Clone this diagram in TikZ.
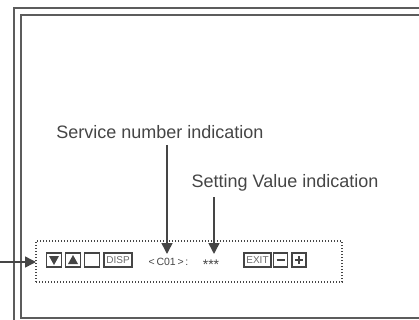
\documentclass[tikz,border=0pt]{standalone}
\usepackage{fontspec}
\setmainfont{Liberation Sans}
\usetikzlibrary{arrows.meta,calc}
\definecolor{ink}{HTML}{454545}
\definecolor{framec}{HTML}{5C5C5C}
\begin{document}
\begin{tikzpicture}[x=1pt,y=-1pt,
  frameline/.style={draw=framec,line width=1.7pt},
  btn/.style={draw=ink,line width=1.3pt,minimum width=15pt,minimum height=14pt,inner sep=0pt},
  btntext/.style={btn,text=ink!80,font=\fontsize{10}{10}\selectfont},
  label/.style={text=ink,font=\fontsize{18}{20}\selectfont,inner sep=0pt},
  small/.style={text=ink,font=\fontsize{10.5}{10.5}\selectfont,inner sep=0pt},
  pointer/.style={draw=ink,line width=1.5pt,-{Triangle[length=11pt,width=11pt]}},
  glyph/.style={fill=ink,draw=none}]
\useasboundingbox (0,0) rectangle (419,320);
\begin{scope}
  \clip (0,0) rectangle (419,320);
  \draw[frameline] (14,330) -- (14,8) -- (430,8);
  \draw[frameline] (430,318) -- (21,318) -- (21,15) -- (430,15);
\end{scope}
% dotted panel
\node[draw=ink,line width=1.2pt,dash pattern=on 1pt off 2pt,minimum width=306pt,minimum height=41pt,inner sep=0pt] (panel) at (189,261.5) {};
% buttons
\node[btn] (down) at (54,260) {};
\node[btn] (up) at (73,260) {};
\node[btn] (blank) at (92,260) {};
\node[btntext,minimum width=28pt] (disp) at (118,260) {DISP};
\node[btntext,minimum width=27pt] (exit) at (257.5,260) {EXIT};
\node[btn,minimum width=14pt] (minus) at (280.5,260) {};
\node[btn,minimum width=14pt] (plus) at (299,260) {};
\fill[glyph] ($(down.center)+(-5,-4)$) -- ($(down.center)+(5,-4)$) -- ($(down.center)+(0,5)$) -- cycle;
\fill[glyph] ($(up.center)+(-5,4)$) -- ($(up.center)+(5,4)$) -- ($(up.center)+(0,-5)$) -- cycle;
\draw[ink,line width=1.5pt] ($(minus.center)+(-4,0)$) -- ($(minus.center)+(4,0)$);
\draw[ink,line width=1.5pt] ($(plus.center)+(-4,0)$) -- ($(plus.center)+(4,0)$)
  ($(plus.center)+(0,-4)$) -- ($(plus.center)+(0,4)$);
% texts
\node[small] (code) at (168.5,262) {<\,C01\,>\,:};
\node[text=ink,font=\fontsize{14}{14}\selectfont,inner sep=0pt] (value) at (211,265) {***};
\node[label] (svc) at (160,132) {Service number indication};
\node[label] (setv) at (285,183) {Setting Value indication};
\coordinate (s1) at (167,145);
\coordinate (t1) at (167,254);
\coordinate (s2) at (214,197);
\coordinate (t2) at (214,254);
\coordinate (s3) at (0,262);
\coordinate (t3) at (36,262);
\draw[pointer] (s1) -- (t1);
\draw[pointer] (s2) -- (t2);
\draw[pointer] (s3) -- (t3);
\end{tikzpicture}
\end{document}
